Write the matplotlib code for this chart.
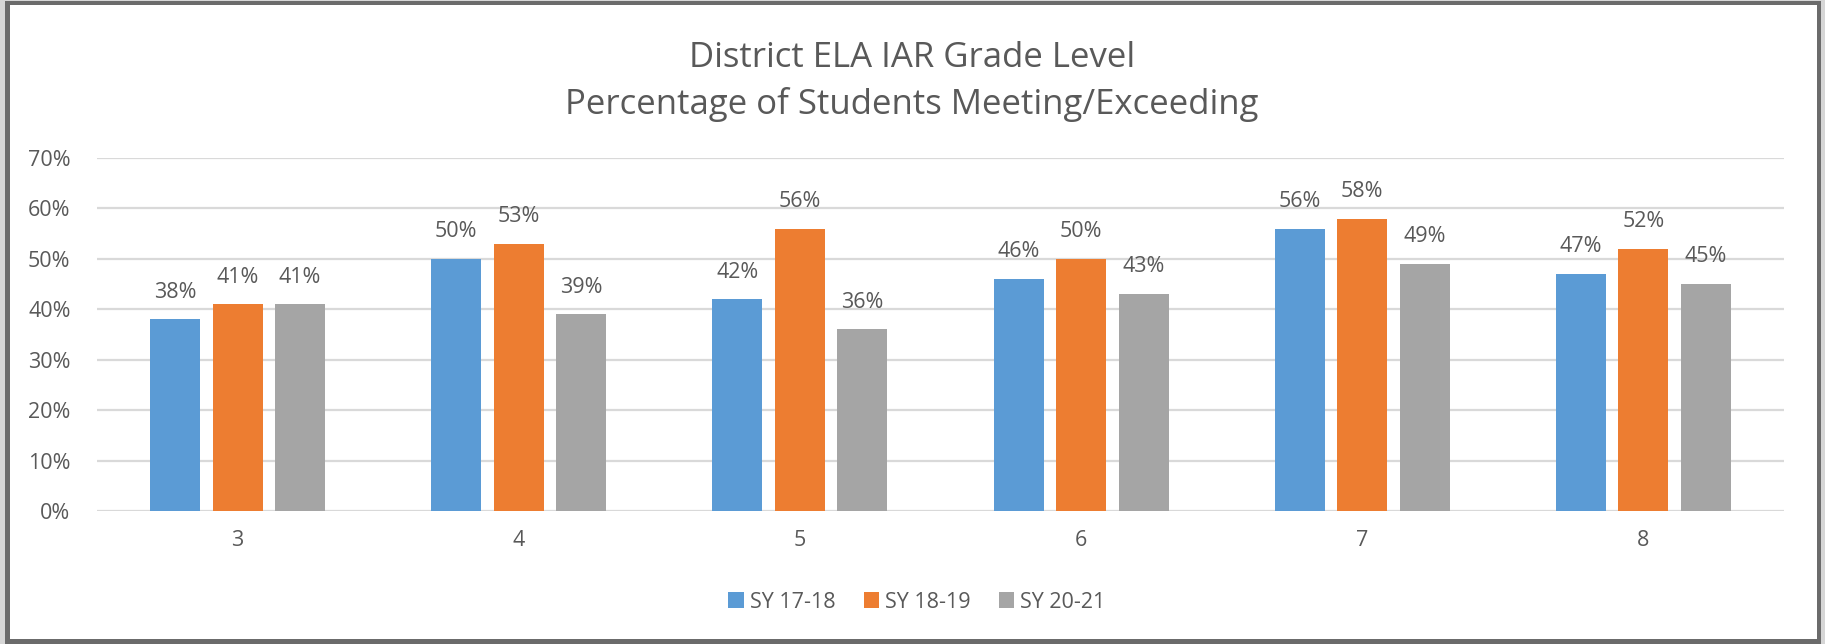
import numpy as np
import matplotlib
matplotlib.use("Agg")
import matplotlib.pyplot as plt
from matplotlib.patches import Rectangle

# données
grades = ["3", "4", "5", "6", "7", "8"]
sy_17_18 = [38, 50, 42, 46, 56, 47]
sy_18_19 = [41, 53, 56, 50, 58, 52]
sy_20_21 = [41, 39, 36, 43, 49, 45]
series_names = ["SY 17-18", "SY 18-19", "SY 20-21"]
series_colors = ["#5B9BD5", "#ED7D31", "#A5A5A5"]

W, H = 1825, 644
plt.rcParams['font.family'] = ['Open Sans', 'DejaVu Sans']
text_col = "#595959"

fig = plt.figure(figsize=(W / 100, H / 100), dpi=100, facecolor="#D6D6D6")

def px_rect(x0, y0, x1, y1, color):
    # rectangle en pixels (origine en haut à gauche)
    r = Rectangle((x0 / W, 1 - y1 / H), (x1 - x0) / W, (y1 - y0) / H,
                  transform=fig.transFigure, facecolor=color, edgecolor='none', zorder=-10)
    fig.patches.append(r)

# cadre gris foncé + fond blanc
px_rect(5, 1, 1821, 644, "#6B6B6B")
px_rect(10, 5, 1817, 639, "white")

ax = fig.add_axes([97 / W, 1 - 511 / H, (1784 - 97) / W, (511 - 158) / H])
ax.set_facecolor('none')

x = np.arange(len(grades))
bw = 50 / 281
step = 62.5 / 281
all_series = [sy_17_18, sy_18_19, sy_20_21]
for i, (vals, name, col) in enumerate(zip(all_series, series_names, series_colors)):
    pos = x + (i - 1) * step
    bars = ax.bar(pos, np.array(vals) / 100, width=bw, color=col, label=name, zorder=3)
    for b, v in zip(bars, vals):
        ax.annotate(f"{v}%", (b.get_x() + b.get_width() / 2, b.get_height()),
                    xytext=(0, 12), textcoords='offset points', ha='center', va='bottom',
                    fontsize=15.5, color=text_col)

ax.set_xlim(-0.5, len(grades) - 0.5)
ax.set_ylim(0, 0.7)
ax.set_yticks(np.arange(0, 0.71, 0.1))
ax.set_yticklabels([f"{int(round(t * 100))}%" for t in np.arange(0, 0.71, 0.1)])
ax.set_xticks(x)
ax.set_xticklabels(grades)
ax.grid(axis='y', color="#D9D9D9", linewidth=1.6, zorder=0)
for s in ax.spines.values():
    s.set_visible(False)
ax.tick_params(axis='both', length=0, labelsize=15.5, labelcolor=text_col)
ax.tick_params(axis='y', pad=19)
ax.tick_params(axis='x', pad=14)

fig.text(912 / W, 1 - 58 / H, "District ELA IAR Grade Level", ha='center', va='center',
         fontsize=25, color=text_col)
fig.text(912 / W, 1 - 104 / H, "Percentage of Students Meeting/Exceeding", ha='center', va='center',
         fontsize=25, color=text_col)

leg = fig.legend(loc='center', bbox_to_anchor=(917 / W, 1 - 602 / H), ncol=3, frameon=False,
                 fontsize=15.5, handlelength=0.7, handleheight=0.7, handletextpad=0.3,
                 columnspacing=1.3)
for t in leg.get_texts():
    t.set_color(text_col)

fig.savefig("out.png", dpi=100, facecolor=fig.get_facecolor())
